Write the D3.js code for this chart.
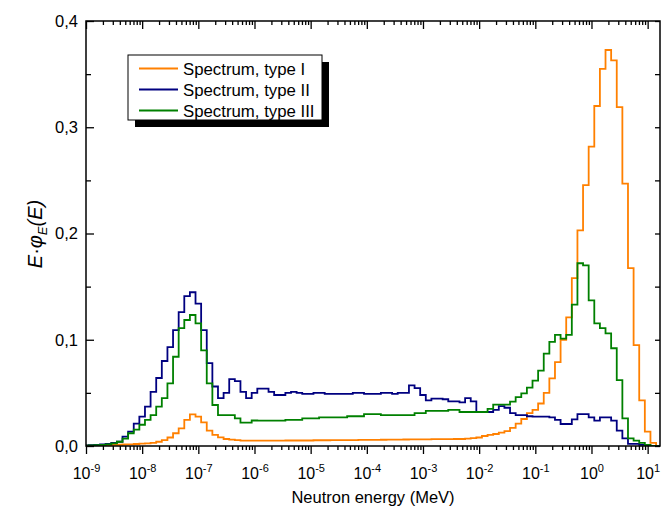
<!DOCTYPE html>
<html>
<head>
<meta charset="utf-8">
<script src="https://cdn.jsdelivr.net/npm/d3@7"></script>
<style>
  body { margin: 0; background: #fff; }
  svg { display: block; font-family: Arial, 'Liberation Sans', sans-serif; }
</style>
</head>
<body>
<svg width="662" height="512"></svg>
<script>
// Histogram bins: 10 per decade, bin k centred on 10^(-9 + k/10) MeV
const binLog = d3.range(103).map((k) => -9 + k / 10)

const seriesNames = ['Spectrum, type I', 'Spectrum, type II', 'Spectrum, type III']

// E*phi(E)
const typeI = [
  0.0003, 0.0004, 0.0005, 0.0006, 0.0008, 0.001, 0.0012, 0.0014, 0.0016, 0.0019,
  0.0022, 0.0025, 0.003, 0.004, 0.0056, 0.008, 0.012, 0.0166, 0.0245, 0.0298,
  0.0276, 0.0223, 0.0144, 0.0104, 0.0082, 0.0066, 0.006, 0.0055, 0.005, 0.005,
  0.005, 0.005, 0.005, 0.005, 0.005, 0.005, 0.0052, 0.0052, 0.0052, 0.0052,
  0.0052, 0.0054, 0.0054, 0.0054, 0.0055, 0.0055, 0.0055, 0.0056, 0.0056, 0.0057,
  0.0057, 0.0058, 0.0058, 0.0059, 0.006, 0.006, 0.006, 0.0061, 0.0062, 0.0062,
  0.0063, 0.0063, 0.0064, 0.0064, 0.0065, 0.0065, 0.0066, 0.0066, 0.007, 0.0075,
  0.008, 0.0094, 0.0105, 0.0113, 0.0125, 0.014, 0.017, 0.021, 0.0254, 0.031,
  0.034, 0.04, 0.05, 0.0637, 0.079, 0.1, 0.121, 0.158, 0.203, 0.2456,
  0.2817, 0.32, 0.355, 0.3727, 0.363, 0.319, 0.247, 0.1675, 0.095, 0.043,
  0.0135, 0.003, 0
]

const typeII = [
  0.0005, 0.0008, 0.001, 0.0015, 0.002, 0.003, 0.004, 0.0088, 0.0135, 0.021,
  0.0276, 0.037, 0.051, 0.064, 0.08, 0.093, 0.109, 0.126, 0.141, 0.1447,
  0.134, 0.109, 0.078, 0.056, 0.045, 0.05, 0.063, 0.061, 0.051, 0.045,
  0.05, 0.054, 0.054, 0.051, 0.048, 0.048, 0.05, 0.051, 0.05, 0.049,
  0.049, 0.05, 0.05, 0.049, 0.049, 0.049, 0.049, 0.049, 0.05, 0.05,
  0.049, 0.049, 0.049, 0.05, 0.05, 0.049, 0.05, 0.05, 0.057, 0.0545,
  0.048, 0.043, 0.0445, 0.0445, 0.044, 0.042, 0.042, 0.041, 0.045, 0.042,
  0.032, 0.032, 0.032, 0.034, 0.0376, 0.036, 0.031, 0.029, 0.029, 0.028,
  0.0276, 0.0276, 0.0276, 0.027, 0.0245, 0.0207, 0.0207, 0.025, 0.03, 0.03,
  0.027, 0.0238, 0.027, 0.027, 0.0238, 0.0144, 0.0072, 0.002, 0.002, 0.001,
  0.0005, 0, 0
]

const typeIII = [
  0.0003, 0.0005, 0.0008, 0.001, 0.0015, 0.0025, 0.004, 0.007, 0.012, 0.0155,
  0.02, 0.0245, 0.029, 0.037, 0.045, 0.059, 0.084, 0.111, 0.1186, 0.1233,
  0.1155, 0.09, 0.059, 0.0386, 0.029, 0.029, 0.029, 0.026, 0.022, 0.022,
  0.024, 0.0238, 0.0238, 0.0238, 0.0238, 0.0238, 0.0245, 0.0245, 0.0245, 0.026,
  0.026, 0.026, 0.027, 0.027, 0.027, 0.027, 0.027, 0.028, 0.028, 0.028,
  0.03, 0.03, 0.03, 0.029, 0.029, 0.029, 0.029, 0.029, 0.029, 0.031,
  0.031, 0.033, 0.033, 0.033, 0.033, 0.034, 0.034, 0.032, 0.032, 0.032,
  0.032, 0.032, 0.035, 0.039, 0.039, 0.039, 0.0417, 0.046, 0.0496, 0.055,
  0.0615, 0.071, 0.087, 0.098, 0.1045, 0.101, 0.1045, 0.133, 0.172, 0.17,
  0.137, 0.1155, 0.111, 0.106, 0.092, 0.062, 0.026, 0.0072, 0.005, 0.003,
  0.001, 0, 0
]

const xTickExps = [-9, -8, -7, -6, -5, -4, -3, -2, -1, 0, 1]
const yTicks = [0, 0.1, 0.2, 0.3, 0.4]
const yMinorTicks = [0.05, 0.15, 0.25, 0.35]

const orange = '#ff8000',
  navy = '#000080',
  green = '#008000'
const colors = [orange, navy, green]

let xPixelMin = 86
let xPixelMax = 660
let yPixelMin = 21
let yPixelMax = 446

const svg = d3.select('svg')

// Scales
let xScale = d3
  .scaleLog()
  .domain([1e-9, Math.pow(10, 1.22)])
  .range([xPixelMin, xPixelMax])
let yScale = d3.scaleLinear().domain([0, 0.4]).range([yPixelMax, yPixelMin])

let xMajor = xTickExps.map((e) => Math.pow(10, e))
let xMinor = []
xTickExps.forEach((e) => {
  for (let m = 2; m <= 9; m++) {
    let v = m * Math.pow(10, e)
    if (v <= xScale.domain()[1]) xMinor.push(v)
  }
})

// Curves (clipped to the frame)
svg
  .append('clipPath')
  .attr('id', 'plotClip')
  .append('rect')
  .attr('x', xPixelMin)
  .attr('y', yPixelMin - 2)
  .attr('width', xPixelMax - xPixelMin)
  .attr('height', yPixelMax - yPixelMin + 2)

let stepLine = d3
  .line()
  .x((d) => xScale(Math.pow(10, d.lo)))
  .y((d) => yScale(d.v))
  .curve(d3.curveStepAfter)

const toSteps = (values) => {
  let pts = values.map((v, i) => ({ lo: binLog[i] - 0.05, v: v }))
  pts.push({ lo: binLog[values.length - 1] + 0.05, v: values[values.length - 1] })
  return pts
}

const curveG = svg.append('g').attr('clip-path', 'url(#plotClip)')
;[typeI, typeII, typeIII].forEach((vals, i) => {
  curveG
    .append('path')
    .attr('d', stepLine(toSteps(vals)))
    .attr('fill', 'none')
    .attr('stroke', colors[i])
    .attr('stroke-width', 1.8)
})

// Axes
const styleAxis = (g) => {
  g.select('.domain').remove()
  g.selectAll('line').attr('stroke', '#000').attr('stroke-width', 1.3)
}

// bottom: ticks point out
svg
  .append('g')
  .attr('transform', `translate(0, ${yPixelMax})`)
  .call(d3.axisBottom(xScale).tickValues(xMinor).tickSize(4).tickFormat(''))
  .call(styleAxis)

let xAxisG = svg
  .append('g')
  .attr('transform', `translate(0, ${yPixelMax})`)
  .call(d3.axisBottom(xScale).tickValues(xMajor).tickSize(8).tickPadding(14))
  .call(styleAxis)

xAxisG.selectAll('.tick text').each(function (d) {
  let t = d3.select(this)
  let e = Math.round(Math.log10(d))
  t.text(null)
    .attr('fill', '#000')
    .attr('font-size', 16)
    .attr('font-family', 'Arial, Liberation Sans, sans-serif')
  t.append('tspan').text('10')
  t.append('tspan')
    .attr('dy', -7)
    .attr('font-size', 11)
    .text(e < 0 ? '-' + Math.abs(e) : String(e))
})

// top: ticks point into the plot
svg
  .append('g')
  .attr('transform', `translate(0, ${yPixelMin})`)
  .call(d3.axisBottom(xScale).tickValues(xMinor).tickSize(4).tickFormat(''))
  .call(styleAxis)
svg
  .append('g')
  .attr('transform', `translate(0, ${yPixelMin})`)
  .call(d3.axisBottom(xScale).tickValues(xMajor).tickSize(8).tickFormat(''))
  .call(styleAxis)

// left: ticks point in
svg
  .append('g')
  .attr('transform', `translate(${xPixelMin}, 0)`)
  .call(d3.axisRight(yScale).tickValues(yMinorTicks).tickSize(5).tickFormat(''))
  .call(styleAxis)

svg
  .append('g')
  .attr('transform', `translate(${xPixelMin}, 0)`)
  .call(d3.axisRight(yScale).tickValues(yTicks).tickSize(8).tickFormat(''))
  .call(styleAxis)

svg
  .append('g')
  .selectAll('text')
  .data(yTicks)
  .enter()
  .append('text')
  .attr('x', xPixelMin - 8)
  .attr('y', (d) => yScale(d))
  .attr('dy', '0.36em')
  .attr('text-anchor', 'end')
  .attr('font-size', 16.5)
  .text((d) => d3.format('.1f')(d).replace('.', ','))

// right: ticks point in
svg
  .append('g')
  .attr('transform', `translate(${xPixelMax}, 0)`)
  .call(d3.axisLeft(yScale).tickValues(yTicks.concat(yMinorTicks)).tickSize(5).tickFormat(''))
  .call(styleAxis)

// Frame
svg
  .append('rect')
  .attr('x', xPixelMin)
  .attr('y', yPixelMin)
  .attr('width', xPixelMax - xPixelMin)
  .attr('height', yPixelMax - yPixelMin)
  .attr('fill', 'none')
  .attr('stroke', '#000')
  .attr('stroke-width', 1.5)

// Axis titles
svg
  .append('text')
  .attr('x', 373)
  .attr('y', 503)
  .attr('text-anchor', 'middle')
  .attr('font-size', 16.5)
  .text('Neutron energy (MeV)')

let yTitle = svg
  .append('text')
  .attr('transform', 'translate(42, 234) rotate(-90)')
  .attr('text-anchor', 'middle')
  .attr('font-size', 20)
  .attr('font-style', 'italic')
yTitle.append('tspan').text('E')
yTitle.append('tspan').attr('font-style', 'normal').text('\u00b7')
yTitle.append('tspan').text('\u03c6')
yTitle.append('tspan').attr('font-size', 13).attr('dy', 5).text('E')
yTitle.append('tspan').attr('dy', -5).text('(E)')

// Legend with drop shadow
let legX = 128,
  legY = 55,
  legW = 194,
  legH = 65

svg
  .append('rect')
  .attr('x', legX + 7)
  .attr('y', legY + 7)
  .attr('width', legW)
  .attr('height', legH)
  .attr('fill', '#000')

svg
  .append('rect')
  .attr('x', legX)
  .attr('y', legY)
  .attr('width', legW)
  .attr('height', legH)
  .attr('fill', '#fff')
  .attr('stroke', '#000')
  .attr('stroke-width', 1)

let legItems = svg
  .append('g')
  .selectAll('g')
  .data(seriesNames)
  .enter()
  .append('g')
  .attr('transform', (d, i) => `translate(0, ${legY + 13.5 + i * 21})`)

legItems
  .append('line')
  .attr('x1', legX + 11)
  .attr('x2', legX + 50)
  .attr('stroke', (d, i) => colors[i])
  .attr('stroke-width', 1.8)

legItems
  .append('text')
  .attr('x', legX + 55)
  .attr('dy', '0.36em')
  .attr('font-size', 16.8)
  .text((d) => d)
</script>
</body>
</html>
